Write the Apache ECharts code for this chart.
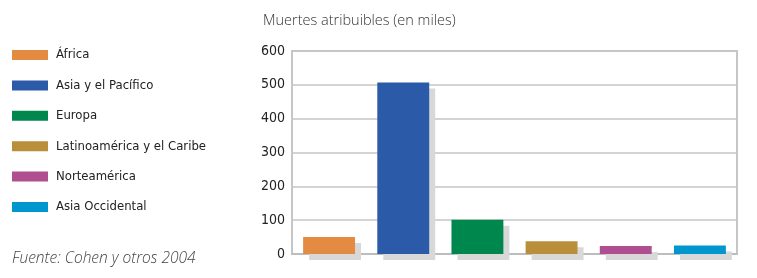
<!DOCTYPE html>
<html><head><meta charset="utf-8">
<script src="https://cdn.jsdelivr.net/npm/echarts@6/dist/echarts.min.js"></script>
<style>html,body{margin:0;padding:0;background:#fff}#c{width:757px;height:278px}</style>
</head><body><div id="c"></div>
<script>
var regions = ['África','Asia y el Pacífico','Europa','Latinoamérica y el Caribe','Norteamérica','Asia Occidental'];
var deaths = [50, 507, 101, 38, 24, 25];
var colors = ['#E38A43','#2B5AA8','#00874E','#B98F3B','#B04F8F','#0097CE'];
var yTicks = [0,100,200,300,400,500,600];
var axisName = 'Muertes atribuibles (en miles)';
var sourceText = 'Fuente: Cohen y otros 2004';

var condensed = "'DejaVu Sans Condensed',sans-serif";
var chart = echarts.init(document.getElementById('c'), null, {renderer:'canvas'});
var series = regions.map(function(name, i){
  return {
    name: name, type: 'bar',
    data: regions.map(function(_, j){ return j === i ? deaths[i] : null; }),
    barWidth: '70%', barGap: '-100%',
    itemStyle: {color: colors[i], borderWidth:0,
      shadowColor:'#d8d8d8', shadowBlur:0, shadowOffsetX:6, shadowOffsetY:6},
    emphasis:{disabled:true}, animation:false
  };
});
chart.setOption({
  animation:false,
  title:{text: axisName, left: 263, top: 13, padding:0,
    textStyle:{fontFamily:"'Open Sans',sans-serif", fontWeight:300, fontSize:14.5, color:'#333'}},
  legend:{orient:'vertical', left:12, top:47, padding:0, itemWidth:36, itemHeight:10, itemGap:14.4,
    icon:'rect', selectedMode:false,
    textStyle:{fontFamily:condensed, fontSize:13, color:'#222', lineHeight:16, padding:[0,0,0,3]},
    data: regions},
  grid:{left:292, right:20, top:51, bottom:24, show:true, borderColor:'#c6c6c6', borderWidth:2, containLabel:false},
  xAxis:{type:'category', data: regions, axisLabel:{show:false}, axisTick:{show:false},
    axisLine:{show:true, lineStyle:{color:'#bdbdbd', width:2}}},
  yAxis:{type:'value', min:yTicks[0], max:yTicks[yTicks.length-1], interval:100,
    axisLine:{show:false}, axisTick:{show:false},
    axisLabel:{margin:7, fontFamily:condensed, fontSize:14, color:'#222'},
    splitLine:{lineStyle:{color:'#c6c6c6', width:1.5}}},
  graphic:[{type:'text', left:12, top:251,
    style:{text: sourceText, font:"italic 300 15.5px 'Open Sans',sans-serif", fill:'#444'}}],
  series: series
});
</script></body></html>
